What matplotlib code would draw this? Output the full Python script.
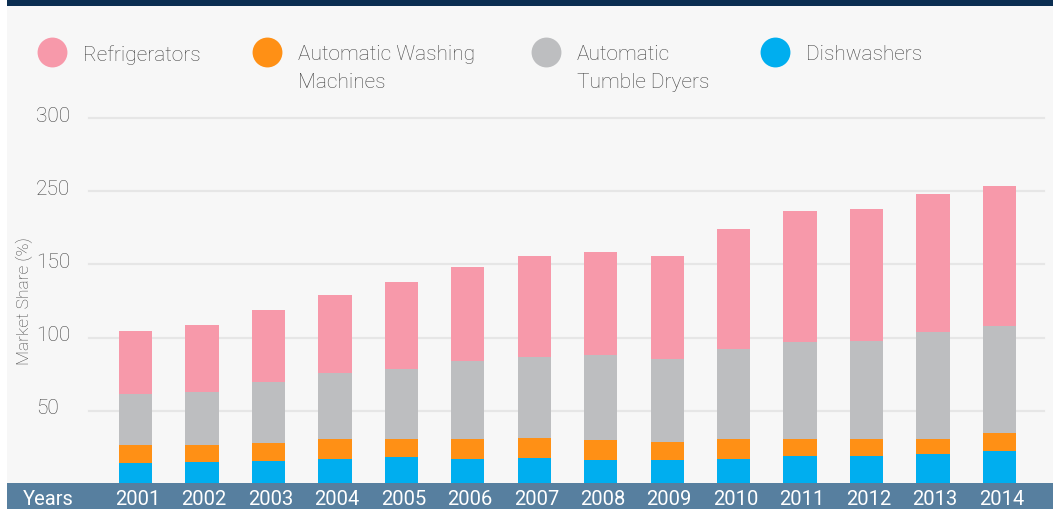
import matplotlib
matplotlib.use("Agg")
import matplotlib.pyplot as plt
import numpy as np
from matplotlib.patches import Rectangle
from matplotlib.lines import Line2D
from matplotlib.transforms import offset_copy, blended_transform_factory

# Data (stack order: bottom -> top)
years = ["2001", "2002", "2003", "2004", "2005", "2006", "2007",
         "2008", "2009", "2010", "2011", "2012", "2013", "2014"]
dishwashers = [14.6, 15.2, 16.0, 17.2, 18.6, 17.2, 17.9, 16.5, 16.5, 17.2, 19.3, 19.3, 20.6, 22.8]
washing = [12.2, 11.6, 12.3, 13.7, 12.3, 13.7, 13.6, 13.7, 12.3, 13.7, 11.6, 11.6, 10.3, 12.0]
dryers = [34.8, 36.2, 41.5, 45.1, 47.8, 53.3, 55.4, 58.1, 56.9, 61.4, 66.2, 66.9, 73.0, 73.2]
fridges = [43.0, 45.7, 49.1, 53.2, 59.4, 64.1, 68.9, 70.3, 70.1, 82.0, 89.4, 90.1, 94.3, 95.6]

# y ticks as printed on the original (upper labels are as shown)
ytick_vals = [50, 100, 150, 200, 250]
ytick_labels = ["50", "100", "150", "250", "300"]

legend_labels = ["Refrigerators", "Automatic Washing\nMachines",
                 "Automatic\nTumble Dryers", "Dishwashers"]

c_pink, c_orange, c_gray, c_blue = "#f799aa", "#ff9015", "#bdbec0", "#00aeef"
legend_colors = [c_pink, c_orange, c_gray, c_blue]

plt.rcParams["font.family"] = ["Roboto", "DejaVu Sans"]

W, H = 1053, 510
fig = plt.figure(figsize=(W / 100, H / 100), dpi=100, facecolor="white")

def fx(px):
    return px / W

def fy(py):
    return 1 - py / H

# panel background, top navy strip
fig.add_artist(Rectangle((fx(7), 0), 1 - fx(7), fy(7), transform=fig.transFigure,
                         facecolor="#f7f7f7", edgecolor="none", zorder=-5))
fig.add_artist(Rectangle((fx(7), fy(7)), 1 - fx(7), 1 - fy(7), transform=fig.transFigure,
                         facecolor="#0b2e51", edgecolor="none", zorder=-4))

ax = fig.add_axes([fx(89), fy(485), fx(1044) - fx(89), fy(119) - fy(485)])
ax.patch.set_alpha(0)

x = np.arange(len(years))
bw = 0.5
bottom = np.zeros(len(years))
for vals, col in [(dishwashers, c_blue), (washing, c_orange), (dryers, c_gray), (fridges, c_pink)]:
    ax.bar(x, vals, bw, bottom=bottom, color=col, zorder=3, linewidth=0)
    bottom += np.array(vals)

ax.set_xlim(-0.70, 13.67)
ax.set_ylim(0, 250)
for s in ax.spines.values():
    s.set_visible(False)
ax.set_xticks([])
ax.set_yticks([])
for v in ytick_vals:
    ax.axhline(v, color="#e6e6e6", lw=1.6, zorder=1, clip_on=False)

# y tick labels, left aligned like the original
ytr = offset_copy(ax.get_yaxis_transform(), fig=fig, x=0, y=3, units="dots")
for v, lab in zip(ytick_vals, ytick_labels):
    ax.text((36 - 89) / (1044 - 89), v, lab, transform=ytr, ha="left", va="center",
            fontsize=15, color="#444444", fontweight="light")

fig.text(fx(24), fy(301), "Market Share (%)", rotation=90, ha="center", va="center",
         fontsize=12.5, color="#444444", fontweight="light")

# bottom band with year labels
fig.add_artist(Rectangle((fx(7), 0), 1 - fx(7), fy(483.5), transform=fig.transFigure,
                         facecolor="#577f9f", edgecolor="none", zorder=2))
btr = offset_copy(blended_transform_factory(ax.transData, fig.transFigure),
                  fig=fig, x=2, y=0, units="dots")
for xi, yr in zip(x, years):
    fig.text(xi, fy(500), yr, transform=btr, ha="center", va="center",
             fontsize=14.5, color="white", zorder=10)
fig.text(fx(23), fy(500), "Years", ha="left", va="center", fontsize=14.5, color="white",
         zorder=10)

# legend drawn by hand (marker aligned with first line)
legend_x = [52, 267, 546, 775]
for px, lab, col in zip(legend_x, legend_labels, legend_colors):
    fig.add_artist(Line2D([fx(px)], [fy(53)], transform=fig.transFigure, marker="o",
                          markersize=21.5, color=col, markeredgewidth=0, linestyle="none"))
    fig.text(fx(px + 31), fy(53), lab, ha="left", va="top", fontsize=15,
             color="#444444", fontweight="light", linespacing=1.58,
             transform=offset_copy(fig.transFigure, fig=fig, x=0, y=8, units="dots"))

fig.savefig("out.png", dpi=100, facecolor=fig.get_facecolor())
plt.close(fig)
